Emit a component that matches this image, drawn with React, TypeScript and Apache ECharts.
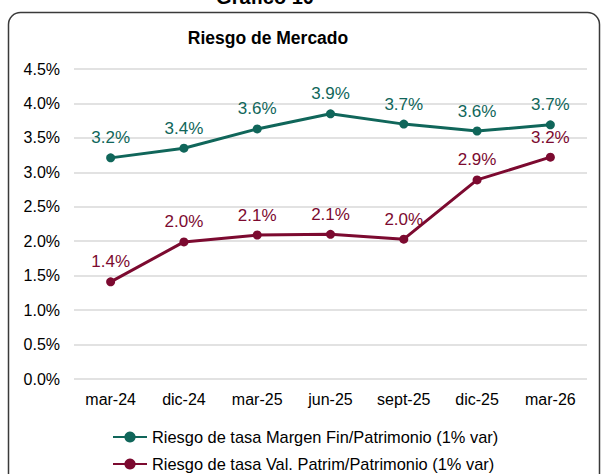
import React, { useEffect, useRef } from "react";
import * as echarts from "echarts";

const categories = ["mar-24", "dic-24", "mar-25", "jun-25", "sept-25", "dic-25", "mar-26"];
const margenFin = [3.21, 3.35, 3.63, 3.85, 3.7, 3.6, 3.69];
const valPatrim = [1.41, 1.99, 2.09, 2.1, 2.03, 2.89, 3.22];
const seriesNames = [
  "Riesgo de tasa Margen Fin/Patrimonio (1% var)",
  "Riesgo de tasa Val. Patrim/Patrimonio (1% var)",
];
const GREEN = "#10665a";
const RED = "#7c0a30";
const FONT = "Liberation Sans, Arial, sans-serif";

export default function App() {
  const ref = useRef<HTMLDivElement>(null);
  useEffect(() => {
    const chart = echarts.init(ref.current!, null, { renderer: "svg" });
    const mk = (name: string, data: number[], color: string) => ({
      name,
      type: "line",
      data,
      symbol: "circle",
      symbolSize: 9,
      lineStyle: { color, width: 3 },
      itemStyle: { color },
      label: {
        show: true,
        position: "top",
        distance: 7,
        color,
        fontSize: 17,
        fontFamily: FONT,
        formatter: (p: any) => p.value.toFixed(1) + "%",
      },
    });
    const legendBase = {
      orient: "horizontal",
      left: 107,
      itemWidth: 34,
      itemHeight: 14,
      itemGap: 0,
      textStyle: { color: "#000", fontSize: 16.4, fontFamily: FONT },
    };
    chart.setOption({
      animation: false,
      backgroundColor: "#ffffff",
      graphic: [
        {
          type: "rect",
          shape: { x: 8.5, y: 12.5, width: 591, height: 500, r: 12 },
          style: { fill: "none", stroke: "#3a3a3a", lineWidth: 1.5 },
          z: -1,
        },
        {
          type: "text",
          x: 265,
          y: -3,
          style: {
            text: "Gráfico 10",
            font: "bold 20px " + FONT,
            fill: "#000",
            align: "center",
            verticalAlign: "middle",
          },
        },
        {
          type: "text",
          x: 268,
          y: 38,
          style: {
            text: "Riesgo de Mercado",
            font: "bold 17.5px " + FONT,
            fill: "#000",
            align: "center",
            verticalAlign: "middle",
          },
        },
      ],
      grid: { left: 74, right: 14, top: 69, bottom: 95, containLabel: false },
      xAxis: {
        type: "category",
        data: categories,
        boundaryGap: true,
        axisLine: { show: false },
        axisTick: { show: false },
        axisLabel: { color: "#000", fontSize: 16, fontFamily: FONT, margin: 12 },
      },
      yAxis: {
        type: "value",
        min: 0,
        max: 4.5,
        interval: 0.5,
        axisLine: { show: false },
        axisTick: { show: false },
        splitLine: { lineStyle: { color: "#d9d9d9", width: 1.5 } },
        axisLabel: {
          color: "#000",
          fontSize: 16,
          fontFamily: FONT,
          margin: 14,
          formatter: (v: number) => v.toFixed(1) + "%",
        },
      },
      legend: [
        { ...legendBase, top: 424, data: [seriesNames[0]] },
        { ...legendBase, top: 451, data: [seriesNames[1]] },
      ],
      series: [mk(seriesNames[0], margenFin, GREEN), mk(seriesNames[1], valPatrim, RED)],
    });
    return () => chart.dispose();
  }, []);
  return (
    <div
      ref={ref}
      style={{ position: "absolute", left: 0, top: 0, width: 601, height: 474 }}
    />
  );
}
